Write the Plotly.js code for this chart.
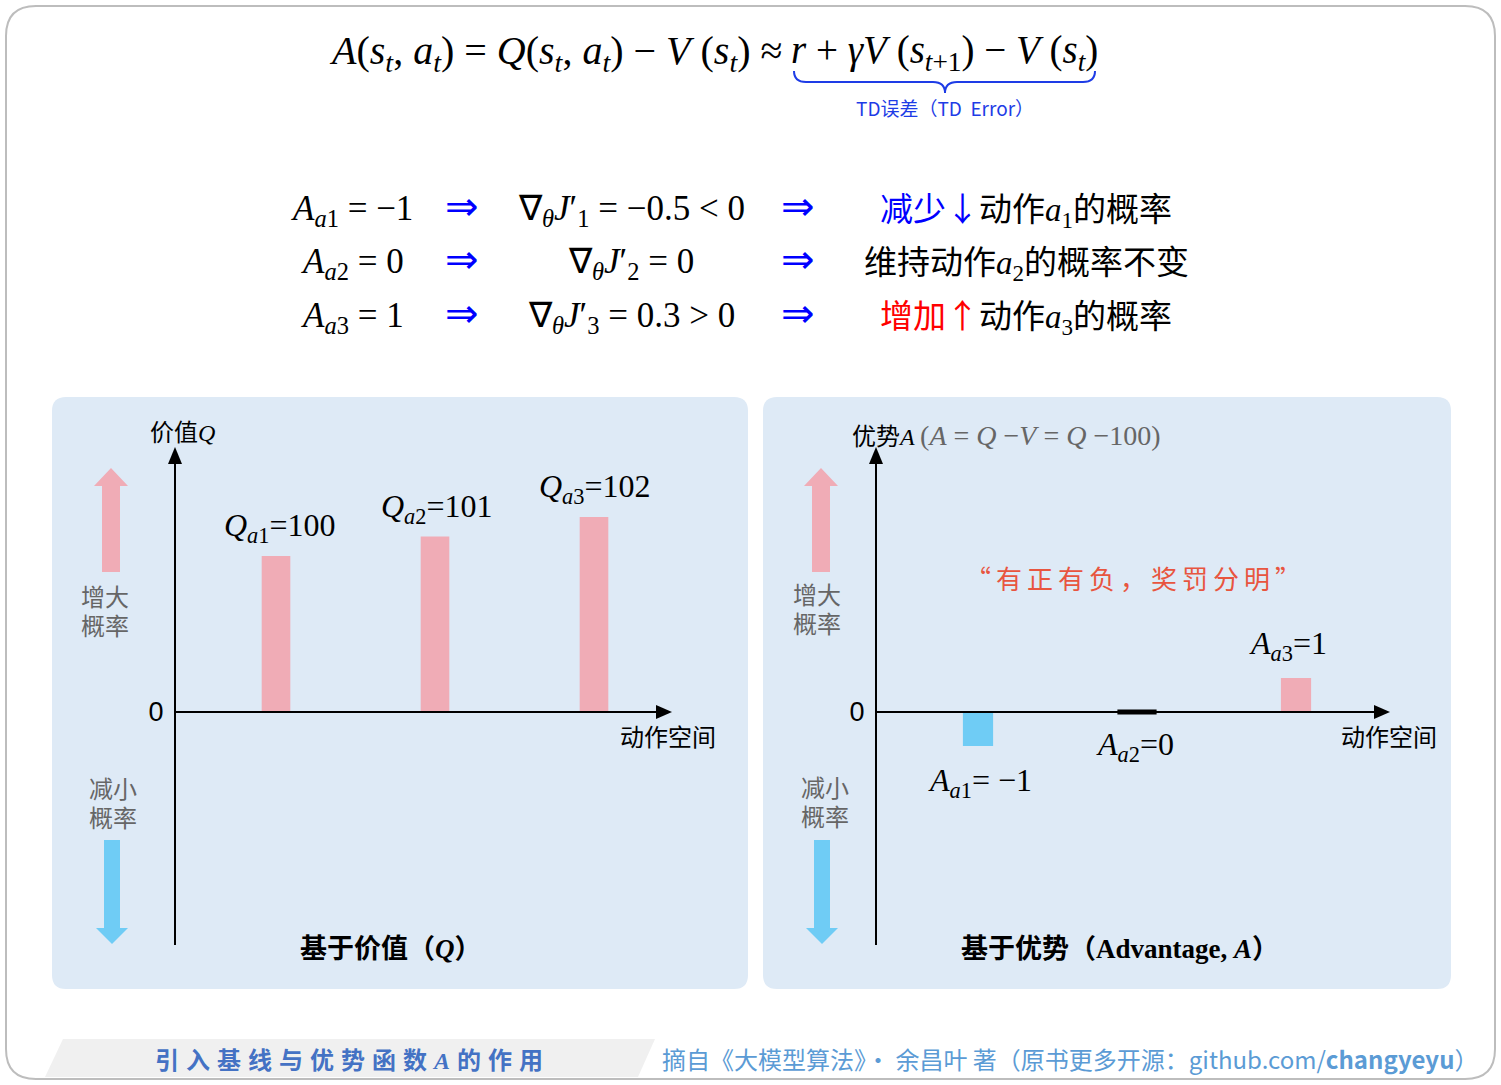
<!DOCTYPE html>
<html>
<head>
<meta charset="utf-8">
<script src="https://cdn.plot.ly/plotly-3.0.1.min.js"></script>
<style>html,body{margin:0;padding:0;background:#fff;}#chart{width:1501px;height:1085px;}</style>
</head>
<body>
<div id="chart"></div>
<script>
// ---------------- data ----------------
const ACTIONS = ['a1', 'a2', 'a3'];
const ACTION_SUB = ['1', '2', '3'];
const Q_VALUES = [100, 101, 102];
const V_BASELINE = 100;
const A_VALUES = [-1, 0, 1];
const GRADS = ['−0.5 < 0', '0', '0.3 > 0'];
const EFFECT_PREFIX = ['减少↓', '维持', '增加↑'];
const EFFECT_SUFFIX = ['的概率', '的概率不变', '的概率'];
const Q_AXIS_BREAK = 92;   // value shown as "0" on the truncated Q axis

// ---------------- helpers ----------------
const W = 1501, H = 1085;
const X = p => p / W;
const Y = p => 1 - p / H;
const SERIF = 'Liberation Serif, Times New Roman, serif';
const CJK = '"Noto Sans CJK SC", "Noto Sans", sans-serif';
const PINK = '#F0ACB6', BLUE = '#6FCCF5', PANEL = '#DEEAF6';

function pathPts(pts) {
  return 'M ' + pts.map(p => X(p[0]) + ',' + Y(p[1])).join(' L ') + ' Z';
}
function roundRect(x0, y0, x1, y1, r) {
  const P = (x, y) => X(x) + ',' + Y(y);
  return 'M ' + P(x0 + r, y0) + ' L ' + P(x1 - r, y0) + ' Q ' + P(x1, y0) + ' ' + P(x1, y0 + r) +
    ' L ' + P(x1, y1 - r) + ' Q ' + P(x1, y1) + ' ' + P(x1 - r, y1) +
    ' L ' + P(x0 + r, y1) + ' Q ' + P(x0, y1) + ' ' + P(x0, y1 - r) +
    ' L ' + P(x0, y0 + r) + ' Q ' + P(x0, y0) + ' ' + P(x0 + r, y0) + ' Z';
}
function ann(text, x, y, o) {
  return Object.assign({
    text: text, xref: 'paper', yref: 'paper', x: X(x), y: Y(y),
    xanchor: 'center', yanchor: 'middle', showarrow: false,
    font: {family: CJK, size: 24, color: '#000'}
  }, o || {});
}
const ser = s => '<span style="font-family:Liberation Serif">' + s + '</span>';

// ---------------- geometry of panels ----------------
const PLOT_TOP = 450, PLOT_BOT = 945, ZERO_Y = 712;
const yDomain = [Y(PLOT_BOT), Y(PLOT_TOP)];
const Q_PX = 19.5, A_PX = 34;
const qRange = [Q_AXIS_BREAK - (PLOT_BOT - ZERO_Y) / Q_PX, Q_AXIS_BREAK + (ZERO_Y - PLOT_TOP) / Q_PX];
const aRange = [-(PLOT_BOT - ZERO_Y) / A_PX, (ZERO_Y - PLOT_TOP) / A_PX];
const STEP = 159;
const L_AX = 175, L_END = 672, L_C0 = 276;
const R_AX = 876, R_END = 1390, R_C0 = 978;

// ---------------- traces ----------------
const traces = [
  {
    type: 'bar', x: ACTIONS, y: Q_VALUES.map(q => q - Q_AXIS_BREAK), base: Q_AXIS_BREAK,
    width: 0.18, marker: {color: PINK}, xaxis: 'x', yaxis: 'y', hoverinfo: 'skip'
  },
  {
    type: 'bar', x: ACTIONS, y: A_VALUES, width: 0.19,
    marker: {color: A_VALUES.map(a => a > 0 ? PINK : BLUE)}, xaxis: 'x2', yaxis: 'y2', hoverinfo: 'skip'
  },
  {
    type: 'scatter', mode: 'markers', x: ACTIONS.filter((c, i) => A_VALUES[i] === 0),
    y: A_VALUES.filter(a => a === 0), xaxis: 'x2', yaxis: 'y2', hoverinfo: 'skip',
    marker: {symbol: 'line-ew', size: 28, line: {width: 5, color: '#000'}}
  }
];

// ---------------- shapes ----------------
const shapes = [
  {type: 'path', xref: 'paper', yref: 'paper', layer: 'below', path: roundRect(6, 6, 1495, 1079, 30),
    line: {color: '#BDBDBD', width: 2}, fillcolor: '#FFFFFF'},
  {type: 'path', xref: 'paper', yref: 'paper', layer: 'below', path: roundRect(52, 397, 748, 989, 14),
    line: {width: 0}, fillcolor: PANEL},
  {type: 'path', xref: 'paper', yref: 'paper', layer: 'below', path: roundRect(763, 397, 1451, 989, 14),
    line: {width: 0}, fillcolor: PANEL},
  {type: 'path', xref: 'paper', yref: 'paper', layer: 'below',
    path: pathPts([[63, 1039], [655, 1039], [638, 1077], [45, 1077]]), line: {width: 0}, fillcolor: '#F0F0F0'},
  // TD underbrace
  {type: 'path', xref: 'paper', yref: 'paper', line: {color: '#1E3CE6', width: 2},
    path: (() => { const P = (x, y) => X(x) + ',' + Y(y);
      return 'M ' + P(794, 71) + ' Q ' + P(794, 82) + ' ' + P(806, 82) + ' L ' + P(933, 82) +
        ' Q ' + P(945, 82) + ' ' + P(945, 93) + ' Q ' + P(945, 82) + ' ' + P(957, 82) +
        ' L ' + P(1083, 82) + ' Q ' + P(1095, 82) + ' ' + P(1095, 71); })()}
];
function axisShapes(ax, end) {
  return [
    {type: 'line', xref: 'paper', yref: 'paper', x0: X(ax), x1: X(ax), y0: Y(PLOT_BOT), y1: Y(PLOT_TOP + 12),
      line: {color: '#000', width: 2}},
    {type: 'path', xref: 'paper', yref: 'paper', path: pathPts([[ax, PLOT_TOP - 3], [ax - 7, PLOT_TOP + 14], [ax + 7, PLOT_TOP + 14]]),
      fillcolor: '#000', line: {width: 0}},
    {type: 'line', xref: 'paper', yref: 'paper', x0: X(ax), x1: X(end - 12), y0: Y(ZERO_Y), y1: Y(ZERO_Y),
      line: {color: '#000', width: 2}},
    {type: 'path', xref: 'paper', yref: 'paper', path: pathPts([[end, ZERO_Y], [end - 16, ZERO_Y - 7], [end - 16, ZERO_Y + 7]]),
      fillcolor: '#000', line: {width: 0}}
  ];
}
function upArrow(cx) {
  return {type: 'path', xref: 'paper', yref: 'paper', fillcolor: PINK, line: {width: 0},
    path: pathPts([[cx, 468], [cx + 17, 486], [cx + 9, 486], [cx + 9, 572], [cx - 9, 572], [cx - 9, 486], [cx - 17, 486]])};
}
function downArrow(cx) {
  return {type: 'path', xref: 'paper', yref: 'paper', fillcolor: BLUE, line: {width: 0},
    path: pathPts([[cx, 944], [cx + 16, 928], [cx + 8, 928], [cx + 8, 840], [cx - 8, 840], [cx - 8, 928], [cx - 16, 928]])};
}
shapes.push(...axisShapes(L_AX, L_END), ...axisShapes(R_AX, R_END));
shapes.push(upArrow(111), downArrow(112), upArrow(821), downArrow(822));

// ---------------- annotations ----------------
const annotations = [];
// top formula
annotations.push(ann(
  '<i>A</i>(<i>s</i><sub><i>t</i></sub>, <i>a</i><sub><i>t</i></sub>) = <i>Q</i>(<i>s</i><sub><i>t</i></sub>, <i>a</i><sub><i>t</i></sub>) − <i>V</i> (<i>s</i><sub><i>t</i></sub>) ≈',
  784, 53, {xanchor: 'right', font: {family: SERIF, size: 40, color: '#000'}}));
annotations.push(ann(
  '<i>r</i> + <i>γV</i> (<i>s</i><sub><i>t</i>+1</sub>) − <i>V</i> (<i>s</i><sub><i>t</i></sub>)',
  945, 53, {font: {family: SERIF, size: 39, color: '#000'}}));
annotations.push(ann('TD误差（TD  Error）', 945, 108, {font: {family: CJK, size: 19, color: '#1E3CE6'}}));

// equation rows
const ROW_Y = [206, 259, 313];
for (let i = 0; i < 3; i++) {
  annotations.push(ann('<i>A</i><sub><i>a</i>' + ACTION_SUB[i] + '</sub> = ' + (A_VALUES[i] < 0 ? '−' + (-A_VALUES[i]) : A_VALUES[i]),
    352, ROW_Y[i] + 4, {font: {family: SERIF, size: 35, color: '#000'}}));
  annotations.push(ann('⇒', 462, ROW_Y[i], {font: {family: 'DejaVu Sans, sans-serif', size: 40, color: '#0000FF'}}));
  annotations.push(ann('∇<sub><i>θ</i></sub><i>J</i>′<sub>' + ACTION_SUB[i] + '</sub> = ' + GRADS[i],
    631, ROW_Y[i] + 4, {font: {family: SERIF, size: 35, color: '#000'}}));
  annotations.push(ann('⇒', 798, ROW_Y[i], {font: {family: 'DejaVu Sans, sans-serif', size: 40, color: '#0000FF'}}));
  const preColor = i === 0 ? '#0000FF' : (i === 2 ? '#FF0000' : '#000');
  annotations.push(ann('<span style="color:' + preColor + '">' + EFFECT_PREFIX[i] + '</span>动作' +
    ser('<i>a</i>') + '<sub>' + ser(ACTION_SUB[i]) + '</sub>' + EFFECT_SUFFIX[i],
    1026, ROW_Y[i] + 2, {font: {family: CJK, size: 33, color: '#000'}}));
}

// left panel texts
annotations.push(ann('价值' + ser('<i>Q</i>'), 182, 430, {font: {family: CJK, size: 24, color: '#000'}}));
annotations.push(ann('增大', 105, 595, {font: {family: CJK, size: 24, color: '#666'}}));
annotations.push(ann('概率', 105, 624, {font: {family: CJK, size: 24, color: '#666'}}));
annotations.push(ann('减小', 113, 787, {font: {family: CJK, size: 24, color: '#666'}}));
annotations.push(ann('概率', 113, 816, {font: {family: CJK, size: 24, color: '#666'}}));
annotations.push(ann('动作空间', 668, 735, {font: {family: CJK, size: 24, color: '#000'}}));
annotations.push(ann('<b>基于价值（' + ser('<i>Q</i>') + '）</b>', 391, 946, {font: {family: CJK, size: 27, color: '#000'}}));
const Q_XSHIFT = [4, 2, 1];
for (let i = 0; i < 3; i++) {
  annotations.push({
    text: '<i>Q</i><sub><i>a</i>' + ACTION_SUB[i] + '</sub>=' + Q_VALUES[i],
    xref: 'x', yref: 'y', x: ACTIONS[i], y: Q_VALUES[i], xanchor: 'center', yanchor: 'bottom',
    yshift: 6, xshift: Q_XSHIFT[i], showarrow: false, font: {family: SERIF, size: 32, color: '#000'}
  });
}

// right panel texts
annotations.push(ann('优势' + ser('<i>A</i>') + ' ' + ser('<span style="color:#666;font-size:28px">(<i>A</i> = <i>Q</i> −<i>V</i> = <i>Q</i> −' + V_BASELINE + ')</span>'),
  850, 434, {xanchor: 'left', font: {family: CJK, size: 24, color: '#000'}}));
annotations.push(ann('增大', 817, 593, {font: {family: CJK, size: 24, color: '#666'}}));
annotations.push(ann('概率', 817, 622, {font: {family: CJK, size: 24, color: '#666'}}));
annotations.push(ann('减小', 825, 786, {font: {family: CJK, size: 24, color: '#666'}}));
annotations.push(ann('概率', 825, 815, {font: {family: CJK, size: 24, color: '#666'}}));
annotations.push(ann('动作空间', 1389, 735, {font: {family: CJK, size: 24, color: '#000'}}));
annotations.push(ann('<span style="letter-spacing:5px">“有正有负，奖罚分明”</span>', 1135, 577,
  {font: {family: CJK, size: 26, color: '#E8553F'}}));
annotations.push(ann('<b>基于优势（' + ser('Advantage, <i>A</i>') + '）</b>', 1120, 946, {font: {family: CJK, size: 27, color: '#000'}}));
const A_LABEL = [
  {yanchor: 'top', yshift: -14, xshift: 2, eq: '= −'},
  {yanchor: 'top', yshift: -12, xshift: -2, eq: '='},
  {yanchor: 'bottom', yshift: 10, xshift: -8, eq: '='}
];
for (let i = 0; i < 3; i++) {
  annotations.push({
    text: '<i>A</i><sub><i>a</i>' + ACTION_SUB[i] + '</sub>' + A_LABEL[i].eq + Math.abs(A_VALUES[i]),
    xref: 'x2', yref: 'y2', x: ACTIONS[i], y: A_VALUES[i], xanchor: 'center', yanchor: A_LABEL[i].yanchor,
    yshift: A_LABEL[i].yshift, xshift: A_LABEL[i].xshift, showarrow: false,
    font: {family: SERIF, size: 32, color: '#000'}
  });
}

// footer
annotations.push(ann('<b><span style="letter-spacing:7px">引入基线与优势函数' + ser('<i>A</i>') + '的作用</span></b>', 352, 1058,
  {font: {family: CJK, size: 24, color: '#4472C4'}}));
annotations.push(ann('摘自《大模型算法》· 余昌叶 著（原书更多开源：github.com/<b>changyeyu</b>）', 660, 1058,
  {xanchor: 'left', font: {family: CJK, size: 24, color: '#5B9BD5'}}));

// ---------------- layout ----------------
const baseAxis = {showgrid: false, zeroline: false, showline: false, fixedrange: true};
const layout = {
  width: W, height: H, margin: {l: 0, r: 0, t: 0, b: 0},
  paper_bgcolor: '#FFFFFF', plot_bgcolor: 'rgba(0,0,0,0)', showlegend: false, barmode: 'overlay',
  xaxis: Object.assign({}, baseAxis, {domain: [X(L_AX), X(L_END)], type: 'category', categoryarray: ACTIONS,
    range: [(L_AX - L_C0) / STEP, (L_END - L_C0) / STEP], showticklabels: false, anchor: 'y'}),
  yaxis: Object.assign({}, baseAxis, {domain: yDomain, range: qRange, anchor: 'x',
    tickmode: 'array', tickvals: [Q_AXIS_BREAK], ticktext: ['0'], ticks: 'outside', ticklen: 5,
    tickcolor: 'rgba(0,0,0,0)', tickfont: {family: 'Liberation Sans, Arial, sans-serif', size: 27, color: '#000'}}),
  xaxis2: Object.assign({}, baseAxis, {domain: [X(R_AX), X(R_END)], type: 'category', categoryarray: ACTIONS,
    range: [(R_AX - R_C0) / STEP, (R_END - R_C0) / STEP], showticklabels: false, anchor: 'y2'}),
  yaxis2: Object.assign({}, baseAxis, {domain: yDomain, range: aRange, anchor: 'x2',
    tickmode: 'array', tickvals: [0], ticktext: ['0'], ticks: 'outside', ticklen: 5,
    tickcolor: 'rgba(0,0,0,0)', tickfont: {family: 'Liberation Sans, Arial, sans-serif', size: 27, color: '#000'}}),
  shapes: shapes, annotations: annotations
};
Plotly.newPlot('chart', traces, layout, {displayModeBar: false, staticPlot: true});
</script>
</body>
</html>
